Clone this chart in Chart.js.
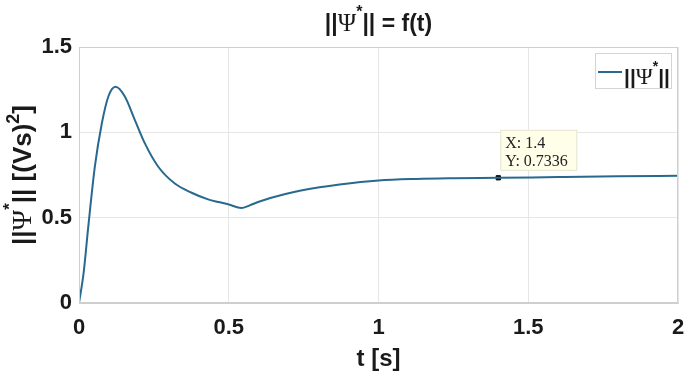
<!DOCTYPE html>
<html lang="en">
<head>
    <meta charset="UTF-8">
    <title>||Ψ*|| = f(t)</title>
    <script src="https://cdn.jsdelivr.net/npm/chart.js"></script>
    <style>
        html, body { margin: 0; padding: 0; background: #fff; }
        #wrap { width: 686px; height: 379px; }
    </style>
</head>
<body>
    <div id="wrap"><canvas id="myChart" width="686" height="379"></canvas></div>
    <script>
        // values
        const tValues = [0, 0.015, 0.031, 0.053, 0.076, 0.098, 0.122, 0.153, 0.187, 0.22, 0.264, 0.32, 0.376, 0.431,
                         0.47, 0.50, 0.542, 0.57, 0.603, 0.689, 0.803, 0.87, 1.0, 1.126, 1.25, 1.4, 1.6, 1.8, 2.0];
        const psiValues = [0, 0.17, 0.447, 0.80, 1.05, 1.21, 1.267, 1.21, 1.07, 0.935, 0.80, 0.70, 0.646, 0.607,
                           0.59, 0.577, 0.556, 0.572, 0.595, 0.639, 0.678, 0.695, 0.718, 0.727, 0.731, 0.7336, 0.738, 0.742, 0.745];
        const xTicks = [0, 0.5, 1, 1.5, 2];
        const yTicks = [0, 0.5, 1, 1.5];
        const tipPoint = { x: 1.4, y: 0.7336 };

        const SANS = "'Liberation Sans', Arial, sans-serif";
        const SERIF = "'Liberation Serif', 'DejaVu Serif', serif";
        const lineColor = '#27698f';

        // draws a row of text pieces, some raised like superscripts
        function drawRich(ctx, parts, x, y, align) {
            let total = 0;
            parts.forEach(p => { ctx.font = p.font; p.w = ctx.measureText(p.text).width; total += p.w; });
            let cx = align === 'center' ? x - total / 2 : x;
            ctx.textBaseline = 'alphabetic';
            ctx.textAlign = 'left';
            parts.forEach(p => {
                ctx.font = p.font;
                ctx.fillText(p.text, cx, y + (p.dy || 0));
                cx += p.w;
            });
        }

        function psiParts(size, starSize) {
            return [
                { text: '||', font: 'bold ' + size + 'px ' + SANS },
                { text: 'Ψ', font: (size + 2) + 'px ' + SERIF },
                { text: '*', font: 'bold ' + starSize + 'px ' + SANS, dy: -size * 0.6 },
                { text: '||', font: 'bold ' + size + 'px ' + SANS }
            ];
        }

        const decorations = {
            id: 'decorations',
            afterDraw(chart) {
                const ctx = chart.ctx;
                const a = chart.chartArea;
                ctx.save();

                // box around axes
                ctx.strokeStyle = '#cfcfcf';
                ctx.lineWidth = 1;
                ctx.strokeRect(a.left + 0.5, a.top + 0.5, a.right - a.left - 1, a.bottom - a.top - 1);

                ctx.fillStyle = '#1a1a1a';
                // title
                const title = psiParts(23, 16).concat([{ text: ' = f(t)', font: 'bold 23px ' + SANS }]);
                drawRich(ctx, title, (a.left + a.right) / 2, 31, 'center');

                // x axis title
                drawRich(ctx, [{ text: 't [s]', font: 'bold 24px ' + SANS }], (a.left + a.right) / 2, 366, 'center');

                // y axis title
                ctx.save();
                ctx.translate(31, (a.top + a.bottom) / 2);
                ctx.rotate(-Math.PI / 2);
                const ylab = psiParts(26, 17).concat([
                    { text: ' [(Vs)', font: 'bold 26px ' + SANS },
                    { text: '2', font: 'bold 18px ' + SANS, dy: -12 },
                    { text: ']', font: 'bold 26px ' + SANS }
                ]);
                drawRich(ctx, ylab, 0, 0, 'center');
                ctx.restore();

                // legend
                const ds = chart.data.datasets[0];
                ctx.fillStyle = '#fff';
                ctx.fillRect(595, 53, 77, 36);
                ctx.strokeStyle = '#d4d4d4';
                ctx.strokeRect(595.5, 53.5, 76, 35);
                ctx.strokeStyle = ds.borderColor;
                ctx.lineWidth = 2;
                ctx.beginPath();
                ctx.moveTo(598, 72);
                ctx.lineTo(622, 72);
                ctx.stroke();
                ctx.fillStyle = '#1a1a1a';
                drawRich(ctx, psiParts(21, 14), 624, 84, 'left');

                // data tip
                const px = chart.scales.x.getPixelForValue(tipPoint.x);
                const py = chart.scales.y.getPixelForValue(tipPoint.y);
                const bx = px + 2, by = py - 48;
                ctx.fillStyle = 'rgba(255,255,232,0.95)';
                ctx.fillRect(bx, by, 77, 41);
                ctx.strokeStyle = '#e4e4d0';
                ctx.lineWidth = 1;
                ctx.strokeRect(bx + 0.5, by + 0.5, 76, 40);
                ctx.fillStyle = '#222';
                ctx.font = '16px ' + SERIF;
                ctx.textAlign = 'left';
                ctx.textBaseline = 'alphabetic';
                ctx.fillText('X: ' + tipPoint.x, bx + 5, by + 18);
                ctx.fillText('Y: ' + tipPoint.y, bx + 5, by + 36);

                ctx.restore();
            }
        };

        const ctx = document.getElementById('myChart').getContext('2d');
        const myChart = new Chart(ctx, {
            type: 'line',
            data: {
                datasets: [{
                    label: '||Ψ*||',
                    data: tValues.map((t, i) => ({ x: t, y: psiValues[i] })),
                    borderColor: lineColor,
                    borderWidth: 2,
                    pointRadius: 0,
                    cubicInterpolationMode: 'monotone',
                    fill: false
                }, {
                    label: 'tip',
                    data: [tipPoint],
                    pointStyle: 'rect',
                    pointRadius: 3,
                    pointBackgroundColor: '#000',
                    pointBorderColor: '#000',
                    showLine: false
                }]
            },
            options: {
                responsive: false,
                animation: false,
                layout: { padding: { top: 47, right: 8, left: 0, bottom: 0 } },
                plugins: {
                    legend: { display: false },
                    tooltip: { enabled: false },
                    title: { display: false }
                },
                scales: {
                    x: {
                        type: 'linear',
                        min: 0,
                        max: 2,
                        afterBuildTicks: s => { s.ticks = xTicks.map(v => ({ value: v })); },
                        afterFit: s => { s.height = 76; s.paddingLeft = 0; s.paddingRight = 0; },
                        grid: { color: '#e6e6e6', drawTicks: false },
                        border: { color: '#cfcfcf' },
                        ticks: {
                            padding: 12,
                            color: '#1a1a1a',
                            font: { family: SANS, size: 22, weight: 'bold' },
                            callback: v => String(v)
                        }
                    },
                    y: {
                        min: 0,
                        max: 1.5,
                        afterBuildTicks: s => { s.ticks = yTicks.map(v => ({ value: v })); },
                        afterFit: s => { s.width = 79; s.paddingTop = 0; s.paddingBottom = 0; },
                        grid: { color: '#e6e6e6', drawTicks: false },
                        border: { color: '#cfcfcf' },
                        ticks: {
                            padding: 7,
                            color: '#1a1a1a',
                            font: { family: SANS, size: 22, weight: 'bold' },
                            callback: v => String(v)
                        }
                    }
                }
            },
            plugins: [decorations]
        });
    </script>
</body>
</html>
